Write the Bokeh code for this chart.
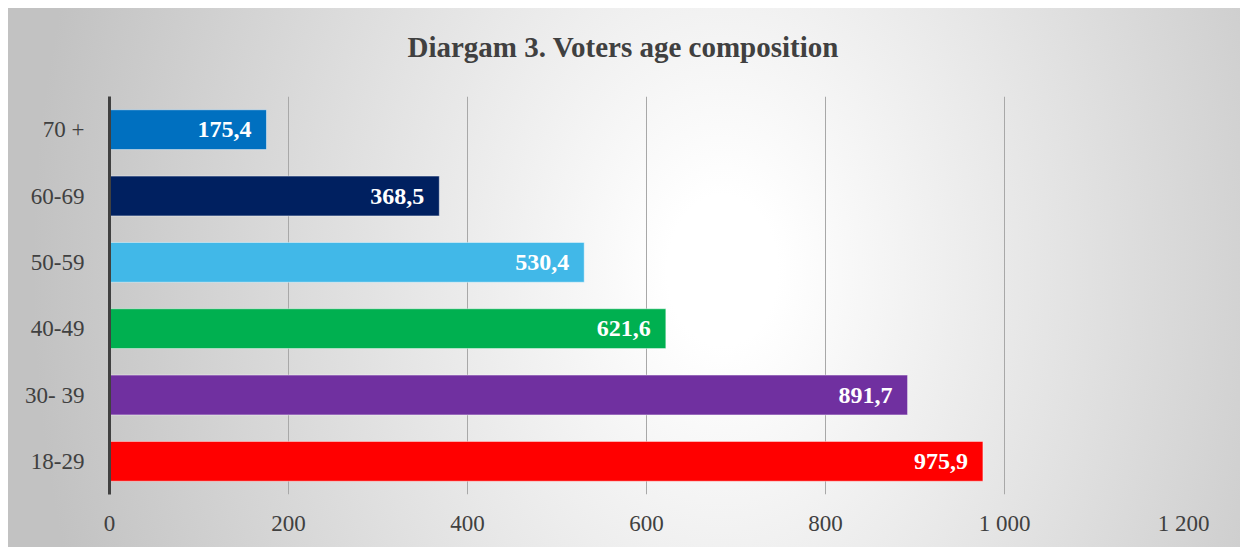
from bokeh.plotting import figure
from bokeh.models import Range1d, FixedTicker, ColumnDataSource
from bokeh.core.properties import value
from bokeh.embed import file_html
from bokeh.resources import INLINE

# ---- data ----
categories = ["18-29", "30- 39", "40-49", "50-59", "60-69", "70 +"]
voters = [975.9, 891.7, 621.6, 530.4, 368.5, 175.4]
bar_colors = ["#FF0000", "#7030A0", "#00B050", "#41B8E8", "#002060", "#0070C0"]
x_ticks = [0, 200, 400, 600, 800, 1000, 1200]
x_tick_labels = [f"{t:,}".replace(",", " ") for t in x_ticks]
title_text = "Diargam 3. Voters age composition"

labels = [f"{v:.1f}".replace(".", ",") for v in voters]

SERIF = "Liberation Serif"
TEXT_COL = "#404040"

p = figure(width=1232, height=553, y_range=categories, x_range=Range1d(0, 1200),
           output_backend="svg", toolbar_location=None,
           min_border_left=101, min_border_right=57, min_border_top=88, min_border_bottom=53)

p.styles = {
    "margin-left": "8px",
    "margin-top": "-6px",
    "background-image": ("linear-gradient(#ffffff, #ffffff), "
                         "radial-gradient(ellipse 56% 170% at 58% 50%, #ffffff 0%, #ffffff 8%, #c2c2c2 100%)"),
    "background-size": "100% 14px, 100% 100%",
    "background-repeat": "no-repeat, no-repeat",
}
p.background_fill_alpha = 0
p.border_fill_alpha = 0
p.outline_line_color = None

src = ColumnDataSource(dict(cat=categories, val=voters, col=bar_colors, lab=labels))
p.hbar(y="cat", right="val", left=0, height=0.6, fill_color="col",
       line_color="white", line_alpha=0.45, line_width=1, source=src)
p.text(x="val", y="cat", text="lab", source=src, x_offset=-15,
       text_align="right", text_baseline="middle", text_color="white",
       text_font=value(SERIF), text_font_style="bold", text_font_size="24px")

# title
p.title.text = title_text
p.title.align = "left"
p.title.offset = 298
p.title.standoff = 68
p.title.text_font = SERIF
p.title.text_font_size = "29px"
p.title.text_font_style = "bold"
p.title.text_color = TEXT_COL

# x axis
p.xaxis.ticker = FixedTicker(ticks=x_ticks)
p.xaxis.major_label_overrides = {t: l for t, l in zip(x_ticks, x_tick_labels)}
p.xaxis.axis_line_color = None
p.xaxis.major_tick_line_color = None
p.xaxis.minor_tick_line_color = None
p.xaxis.major_tick_out = 0
p.xaxis.major_label_standoff = 16
p.xaxis.major_label_text_font = SERIF
p.xaxis.major_label_text_font_size = "23px"
p.xaxis.major_label_text_color = TEXT_COL

# y axis
p.yaxis.axis_line_color = TEXT_COL
p.yaxis.axis_line_width = 3
p.yaxis.major_tick_line_color = None
p.yaxis.minor_tick_line_color = None
p.yaxis.major_tick_out = 0
p.yaxis.major_label_standoff = 25
p.yaxis.major_label_text_font = SERIF
p.yaxis.major_label_text_font_size = "23px"
p.yaxis.major_label_text_color = TEXT_COL

# grid
p.ygrid.grid_line_color = None
p.xgrid.grid_line_color = "#a8a8a8"
p.xgrid.grid_line_width = 1

open("out.html", "w").write(file_html(p, INLINE))
